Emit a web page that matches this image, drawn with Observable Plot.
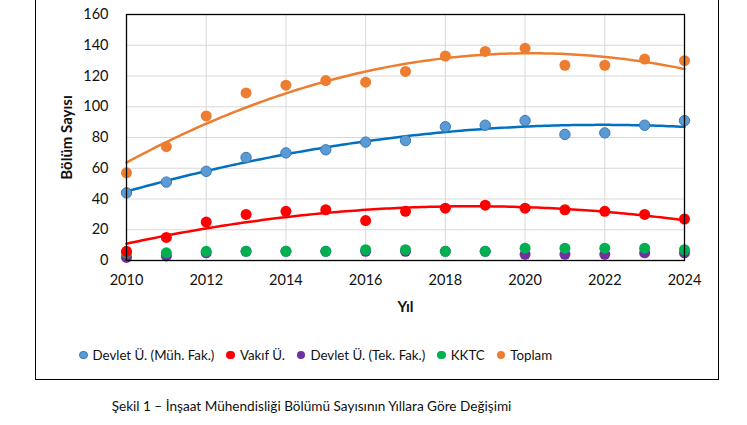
<!DOCTYPE html>
<html><head><meta charset="utf-8">
<script src="https://cdn.jsdelivr.net/npm/d3@7"></script>
<script src="https://cdn.jsdelivr.net/npm/@observablehq/plot@0.6"></script>
<style>
body{margin:0;background:#fff;font-family:Lato,"Open Sans",sans-serif;width:747px;height:425px;overflow:hidden;position:relative}
#box{position:absolute;left:35px;top:-2px;width:684px;height:382px;border:1px solid #000;box-sizing:border-box}
#chart{position:absolute;left:0;top:0}
#legend{position:absolute;left:79px;top:347px;display:flex;font-size:13.3px;color:#111;white-space:nowrap}
#legend .it{display:flex;align-items:center;margin-right:12px}
#legend .dot{width:8.5px;height:8.5px;border-radius:50%;margin-right:5px}
#caption{position:absolute;left:0;width:623px;text-align:center;top:398px;font-size:13.6px;color:#111}
</style></head><body>
<div id="box"></div>
<div id="chart"></div>
<div id="legend"></div>
<div id="caption">Şekil 1 – İnşaat Mühendisliği Bölümü Sayısının Yıllara Göre Değişimi</div>
<script>
const years = [2010,2011,2012,2013,2014,2015,2016,2017,2018,2019,2020,2021,2022,2023,2024];
const devletMuh = [44,51,58,67,70,72,77,78,87,88,91,82,83,88,91];
const vakif     = [6,15,25,30,32,33,26,32,34,36,34,33,32,30,27];
const devletTek = [2,3,5,6,6,6,6,6,6,6,4,4,4,5,5];
const kktc      = [5,5,6,6,6,6,7,7,6,6,8,8,8,8,7];
const toplam    = [57,74,94,109,114,117,116,123,133,136,138,127,127,131,130];
const seriesNames = ["Devlet Ü. (Müh. Fak.)","Vakıf Ü.","Devlet Ü. (Tek. Fak.)","KKTC","Toplam"];
const colors = ["#5B9BD5","#FF0000","#7030A0","#00B050","#ED7D31"];
const yTicks = [0,20,40,60,80,100,120,140,160];
const xTicks = [2010,2012,2014,2016,2018,2020,2022,2024];

// quadratic least-squares trend (like Excel polynomial order 2)
function quadFit(xs, ys){
  const x0 = 2017;
  let S=[0,0,0,0,0], T=[0,0,0];
  xs.forEach((x,i)=>{const t=x-x0; for(let k=0;k<5;k++) S[k]+=t**k; for(let k=0;k<3;k++) T[k]+=ys[i]*t**k;});
  const A=[[S[0],S[1],S[2],T[0]],[S[1],S[2],S[3],T[1]],[S[2],S[3],S[4],T[2]]];
  for(let i=0;i<3;i++){for(let j=i+1;j<3;j++){const f=A[j][i]/A[i][i];for(let k=i;k<4;k++)A[j][k]-=f*A[i][k];}}
  const c=[0,0,0];
  for(let i=2;i>=0;i--){let s=A[i][3];for(let k=i+1;k<3;k++)s-=A[i][k]*c[k];c[i]=s/A[i][i];}
  const out=[];
  for(let x=xs[0]; x<=xs[xs.length-1]+1e-9; x+=0.1){const t=x-x0; out.push({x, y:c[0]+c[1]*t+c[2]*t*t});}
  return out;
}
const pts = (vals)=>years.map((x,i)=>({x, y:vals[i]}));

const chart = Plot.plot({
  width: 747, height: 330,
  marginLeft: 126, marginRight: 63, marginTop: 14, marginBottom: 70,
  style:{fontFamily:"Lato, 'Open Sans', sans-serif", fontSize:"14.5px", color:"#111", background:"transparent"},
  x:{domain:[2010,2024], ticks:xTicks, tickFormat:d=>String(d), tickSize:0, tickPadding:14, label:null},
  y:{domain:[0,160], ticks:yTicks, tickSize:0, tickPadding:18, label:null},
  marks:[
    Plot.ruleY(yTicks.slice(1), {stroke:"#d9d9d9", strokeWidth:1}),
    Plot.ruleX(xTicks.slice(1,-1), {stroke:"#d9d9d9", strokeWidth:1}),
    Plot.axisX({ticks:xTicks, tickFormat:d=>String(d), tickSize:0, tickPadding:14, label:null}),
    Plot.axisY({ticks:yTicks, tickSize:0, tickPadding:18, label:null}),
    Plot.text(["Yıl"], {frameAnchor:"bottom", dy:51, fontWeight:"bold", fontSize:15}),
    Plot.text(["Bölüm Sayısı"], {frameAnchor:"left", textAnchor:"middle", dx:-59, rotate:-90, fontWeight:"bold", fontSize:15}),
    Plot.dot(pts(devletTek), {x:"x", y:"y", r:5.5, fill:colors[2]}),
    Plot.dot(pts(kktc), {x:"x", y:"y", r:5.5, fill:colors[3]}),
    Plot.line(quadFit(years, vakif), {x:"x", y:"y", stroke:"#FF0000", strokeWidth:2.5}),
    Plot.dot(pts(vakif), {x:"x", y:"y", r:5.5, fill:colors[1]}),
    Plot.line(quadFit(years, devletMuh), {x:"x", y:"y", stroke:"#0070C0", strokeWidth:2.5}),
    Plot.dot(pts(devletMuh), {x:"x", y:"y", r:5.2, fill:colors[0], stroke:"#3A78B5", strokeWidth:1}),
    Plot.line(quadFit(years, toplam), {x:"x", y:"y", stroke:"#ED7D31", strokeWidth:2.5}),
    Plot.dot(pts(toplam), {x:"x", y:"y", r:5.5, fill:colors[4]}),
    Plot.frame({stroke:"#000", strokeWidth:1.3})
  ]
});
document.getElementById("chart").appendChild(chart);

const lg = document.getElementById("legend");
seriesNames.forEach((n,i)=>{
  const it=document.createElement("div"); it.className="it";
  const d=document.createElement("span"); d.className="dot"; d.style.background=colors[i];
  if(i===0) d.style.border="1px solid #3A78B5", d.style.boxSizing="border-box";
  const t=document.createElement("span"); t.textContent=n;
  it.appendChild(d); it.appendChild(t); lg.appendChild(it);
});
</script>
</body></html>
